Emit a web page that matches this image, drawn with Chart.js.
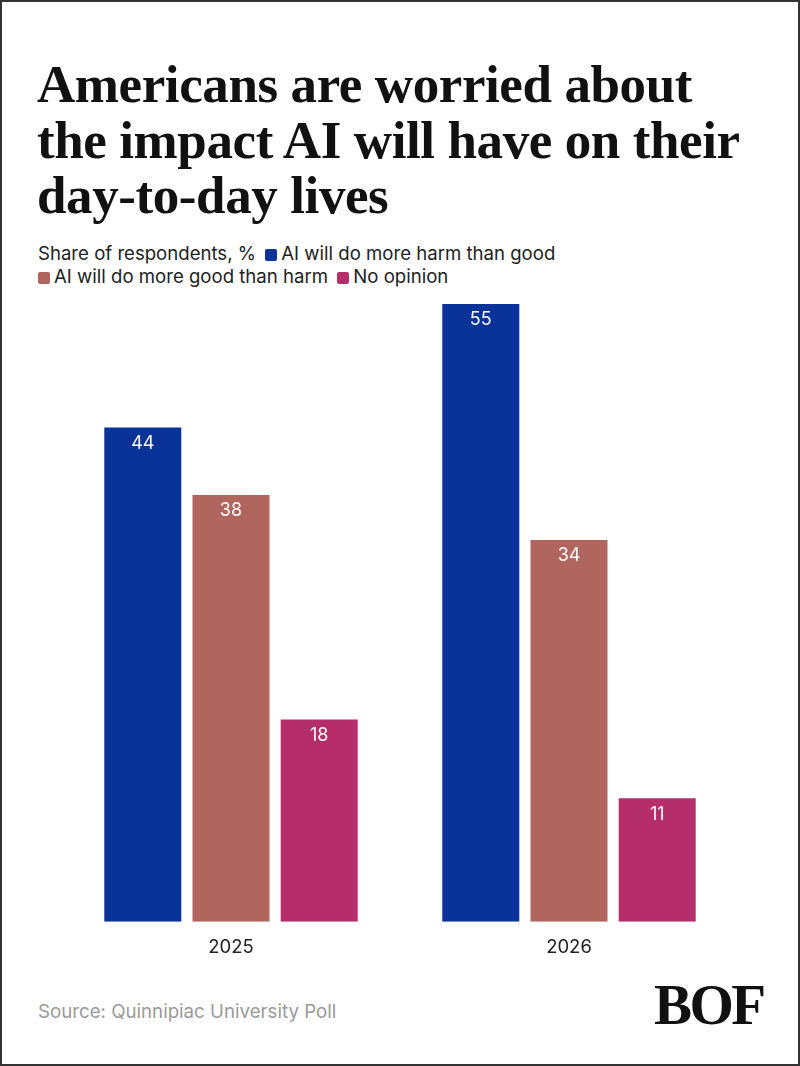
<!DOCTYPE html>
<html>
<head>
<meta charset="utf-8">
<script src="https://cdn.jsdelivr.net/npm/chart.js@4"></script>
<style>
  html, body { margin: 0; padding: 0; background: #fff; }
  #frame {
    position: relative; width: 800px; height: 1066px; box-sizing: border-box;
    border: 2px solid #333; overflow: hidden; font-family: Inter, "Noto Sans", sans-serif;
  }
  h1 {
    position: absolute; left: 35px; top: 55px; margin: 0; width: 760px;
    font-family: "Liberation Serif", serif; font-weight: 700; font-size: 53px;
    line-height: 55.5px; color: #111; letter-spacing: -0.4px; white-space: nowrap;
  }
  #legend {
    position: absolute; left: 36px; top: 240px; width: 740px;
    font-size: 18.6px; line-height: 23px; color: #222;
  }
  #legend .item { white-space: nowrap; margin-right: 4px; }
  #legend .sw { display: inline-block; width: 12px; height: 12px; border-radius: 2px; margin-right: 4px; vertical-align: -1px; }
  #chartBox { position: absolute; left: 0; top: 290px; width: 796px; height: 674px; }
  #source { position: absolute; left: 36px; top: 998px; font-size: 18.7px; color: #9a9a9a; }
  #logo {
    position: absolute; left: 652px; top: 970px; font-family: "Liberation Serif", serif;
    font-weight: 700; font-size: 57px; letter-spacing: -2.5px; color: #111;
  }
</style>
</head>
<body>
<div id="frame">
  <h1>Americans are worried about<br>the impact AI will have on their<br>day-to-day lives</h1>
  <div id="legend"></div>
  <div id="chartBox"><canvas id="chart"></canvas></div>
  <div id="source">Source: Quinnipiac University Poll</div>
  <div id="logo">BOF</div>
</div>
<script>
document.addEventListener('DOMContentLoaded', function() {
    const years = ['2025', '2026'];
    const seriesNames = ['AI will do more harm than good', 'AI will do more good than harm', 'No opinion'];
    const harmValues = [44, 55];
    const goodValues = [38, 34];
    const noOpinionValues = [18, 11];
    const colors = ['#0a3399', '#b0665f', '#b52e69'];

    // legend in html, prefixed with the subtitle
    const legend = document.getElementById('legend');
    legend.innerHTML = '<span class="item">Share of respondents, %</span> ' +
        seriesNames.map((n, i) =>
            `<span class="item"><span class="sw" style="background:${colors[i]}"></span>${n}</span>`
        ).join(' ');

    const valueLabels = {
        id: 'valueLabels',
        afterDatasetsDraw(chart) {
            const ctx = chart.ctx;
            ctx.save();
            ctx.fillStyle = '#fff';
            ctx.font = '18px Inter, "Noto Sans", sans-serif';
            ctx.textAlign = 'center';
            ctx.textBaseline = 'middle';
            chart.data.datasets.forEach((ds, i) => {
                chart.getDatasetMeta(i).data.forEach((bar, j) => {
                    ctx.fillText(ds.data[j], bar.x, bar.y + 16);
                });
            });
            ctx.restore();
        }
    };

    const ctx = document.getElementById('chart').getContext('2d');
    new Chart(ctx, {
        type: 'bar',
        data: {
            labels: years,
            datasets: [
                { label: seriesNames[0], data: harmValues, backgroundColor: colors[0] },
                { label: seriesNames[1], data: goodValues, backgroundColor: colors[1] },
                { label: seriesNames[2], data: noOpinionValues, backgroundColor: colors[2] }
            ]
        },
        options: {
            responsive: true,
            maintainAspectRatio: false,
            animation: false,
            categoryPercentage: 0.783,
            barPercentage: 0.873,
            layout: { padding: { top: 12, left: 60, right: 60, bottom: 0 } },
            plugins: { legend: { display: false }, tooltip: { enabled: false } },
            scales: {
                x: {
                    grid: { display: false },
                    border: { display: false },
                    ticks: {
                        color: '#222',
                        padding: 7,
                        font: { size: 18.5, family: 'Inter, "Noto Sans", sans-serif' }
                    }
                },
                y: {
                    display: false,
                    min: 0,
                    max: 55
                }
            }
        },
        plugins: [valueLabels]
    });
});
</script>
</body>
</html>
